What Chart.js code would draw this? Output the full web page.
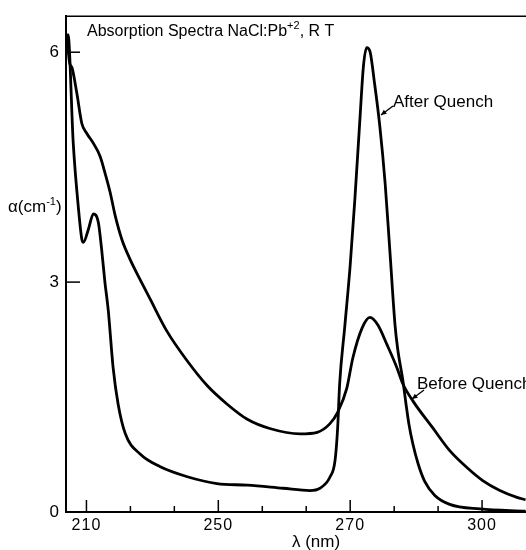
<!DOCTYPE html>
<html><head><meta charset="utf-8">
<script src="https://cdn.jsdelivr.net/npm/chart.js@4"></script>
<style>
html,body{margin:0;padding:0;background:#fff;overflow:hidden;width:526px;height:550px}
#wrap{position:absolute;left:0;top:0;width:560px;height:550px}
</style>
</head><body><div id="wrap"><canvas id="c" width="560" height="550"></canvas></div>
<script>
// After Quench (sharp 272 nm band)
const afterWl = [227.0, 227.2, 228.0, 228.8, 229.3, 229.55, 230.3, 231.06, 231.8, 232.3, 232.8, 233.3, 234.05, 234.8, 235.9, 238.1, 241.2, 245.3, 249.8, 254.4, 259.8, 263.9, 265.4, 266.9, 267.7, 268.1, 268.4, 269.2, 270.0, 270.7, 271.5, 272.0, 272.5, 273.0, 273.7, 274.5, 275.3, 276.0, 276.8, 277.2, 278.0, 278.45, 278.9, 279.5, 280.3, 281.3, 282.8, 285.1, 289.7, 296.6];
const afterAlpha = [6.1, 6.23, 4.81, 3.95, 3.56, 3.52, 3.69, 3.89, 3.78, 3.43, 3.0, 2.64, 1.88, 1.41, 1.02, 0.76, 0.59, 0.46, 0.37, 0.35, 0.31, 0.28, 0.31, 0.45, 0.67, 1.10, 1.67, 2.44, 3.22, 4.07, 5.16, 5.81, 6.06, 6.01, 5.59, 5.03, 4.29, 3.43, 2.44, 2.13, 1.71, 1.42, 1.15, 0.89, 0.63, 0.40, 0.22, 0.10, 0.04, 0.01];
// Before Quench (broad band)
const beforeWl = [227.05, 227.45, 227.8, 228.55, 229.3, 230.06, 231.06, 232.08, 232.83, 233.6, 234.35, 235.36, 236.6, 238.1, 239.65, 242.2, 245.3, 248.3, 251.3, 254.4, 257.8, 262.4, 265.0, 266.9, 268.1, 269.5, 270.4, 271.8, 273.0, 274.2, 275.6, 277.1, 278.0, 279.5, 282.5, 285.1, 287.7, 290.1, 292.7, 295.3, 296.6];
const beforeAlpha = [6.2, 5.86, 5.80, 5.46, 5.07, 4.94, 4.81, 4.64, 4.42, 4.17, 3.87, 3.56, 3.30, 3.04, 2.78, 2.36, 1.97, 1.65, 1.41, 1.21, 1.09, 1.02, 1.04, 1.15, 1.30, 1.62, 2.01, 2.40, 2.54, 2.44, 2.18, 1.88, 1.67, 1.45, 1.10, 0.80, 0.58, 0.41, 0.28, 0.19, 0.16];

const majorTicks = [230, 250, 270, 290];
const majorTickLabels = ['210', '250', '270', '300'];
const minorTicks = [236.67, 243.33, 256.67, 263.33, 276.67, 283.33];
const yTicks = [0, 3, 6];
const yTickLabels = ['0', '3', '6'];

const FONT = '"Liberation Sans", Arial, sans-serif';

const toXY = (xs, ys) => xs.map((x, i) => ({x: x, y: ys[i]}));

const decor = {
  id: 'decor',
  beforeDraw(chart) { chart.ctx.letterSpacing = '1px'; },
  afterDraw(chart) {
    const ctx = chart.ctx, xs = chart.scales.x, ys = chart.scales.y, a = chart.chartArea;
    ctx.save();
    ctx.strokeStyle = '#000'; ctx.fillStyle = '#000';
    // top frame
    ctx.lineWidth = 1.5;
    ctx.beginPath(); ctx.moveTo(a.left, a.top); ctx.lineTo(a.right, a.top); ctx.stroke();
    // x ticks (inward)
    ctx.lineWidth = 1.5;
    majorTicks.forEach(v => { const p = xs.getPixelForValue(v); ctx.beginPath(); ctx.moveTo(p, a.bottom); ctx.lineTo(p, a.bottom - 12); ctx.stroke(); });
    minorTicks.forEach(v => { const p = xs.getPixelForValue(v); ctx.beginPath(); ctx.moveTo(p, a.bottom); ctx.lineTo(p, a.bottom - 6); ctx.stroke(); });
    // y ticks (inward)
    yTicks.slice(1).forEach(v => { const p = ys.getPixelForValue(v); ctx.beginPath(); ctx.moveTo(a.left, p); ctx.lineTo(a.left + 14, p); ctx.stroke(); });

    ctx.letterSpacing = '0px';
    ctx.textBaseline = 'alphabetic'; ctx.textAlign = 'left';
    // title
    let x = 87, y = 36;
    ctx.font = '16px ' + FONT;
    const t1 = 'Absorption Spectra NaCl:Pb';
    ctx.fillText(t1, x, y); x += ctx.measureText(t1).width;
    ctx.font = '11px ' + FONT;
    ctx.fillText('+2', x, y - 7); x += ctx.measureText('+2').width;
    ctx.font = '16px ' + FONT;
    ctx.fillText(', R T', x, y);
    // y axis title
    x = 8; y = 212;
    ctx.font = '17px ' + FONT;
    ctx.fillText('\u03B1(cm', x, y); x += ctx.measureText('\u03B1(cm').width;
    ctx.font = '11px ' + FONT;
    ctx.fillText('-1', x, y - 7); x += ctx.measureText('-1').width;
    ctx.font = '17px ' + FONT;
    ctx.fillText(')', x, y);
    // x axis title
    ctx.font = '17px ' + FONT;
    ctx.textAlign = 'center';
    ctx.fillText('\u03BB (nm)', 316, 547);
    ctx.textAlign = 'left';
    // series labels
    ctx.font = '17px ' + FONT;
    ctx.fillText('After Quench', 393, 107);
    ctx.fillText('Before Quench', 417, 389);
    // arrows
    const arrow = (x1, y1, x2, y2) => {
      ctx.lineWidth = 1.3;
      ctx.beginPath(); ctx.moveTo(x1, y1); ctx.lineTo(x2, y2); ctx.stroke();
      const ang = Math.atan2(y2 - y1, x2 - x1), L = 6;
      ctx.beginPath();
      ctx.moveTo(x2, y2);
      ctx.lineTo(x2 - L * Math.cos(ang - 0.45), y2 - L * Math.sin(ang - 0.45));
      ctx.lineTo(x2 - L * Math.cos(ang + 0.45), y2 - L * Math.sin(ang + 0.45));
      ctx.closePath(); ctx.fill();
    };
    arrow(393, 106, 381, 115);
    arrow(424, 390, 412, 399);
    ctx.restore();
  }
};

new Chart(document.getElementById('c'), {
  type: 'line',
  data: {
    datasets: [
      {label: 'After Quench', data: toXY(afterWl, afterAlpha), borderColor: '#000', borderWidth: 2.8, pointRadius: 0, fill: false, cubicInterpolationMode: 'monotone'},
      {label: 'Before Quench', data: toXY(beforeWl, beforeAlpha), borderColor: '#000', borderWidth: 2.8, pointRadius: 0, fill: false, cubicInterpolationMode: 'monotone'}
    ]
  },
  options: {
    responsive: false, animation: false,
    layout: {padding: {top: 12, right: 12, left: 0, bottom: 0}},
    plugins: {legend: {display: false}, tooltip: {enabled: false}},
    scales: {
      x: {
        type: 'linear', min: 226.9, max: 300,
        afterFit: s => { s.height = 38; },
        afterBuildTicks: s => { s.ticks = majorTicks.map(v => ({value: v})); },
        grid: {display: false, drawTicks: false},
        border: {display: true, color: '#000', width: 2},
        ticks: {color: '#000', font: {size: 16, family: FONT}, padding: 4, maxRotation: 0, autoSkip: false,
          callback: v => { const i = majorTicks.indexOf(v); return i >= 0 ? majorTickLabels[i] : ''; }}
      },
      y: {
        min: 0, max: 6.47,
        afterFit: s => { s.width = 66; },
        afterBuildTicks: s => { s.ticks = yTicks.map(v => ({value: v})); },
        grid: {display: false, drawTicks: false},
        border: {display: true, color: '#000', width: 2},
        ticks: {color: '#000', font: {size: 17, family: FONT}, padding: 6,
          callback: v => { const i = yTicks.indexOf(v); return i >= 0 ? yTickLabels[i] : ''; }}
      }
    }
  },
  plugins: [decor]
});
</script>
</body></html>
